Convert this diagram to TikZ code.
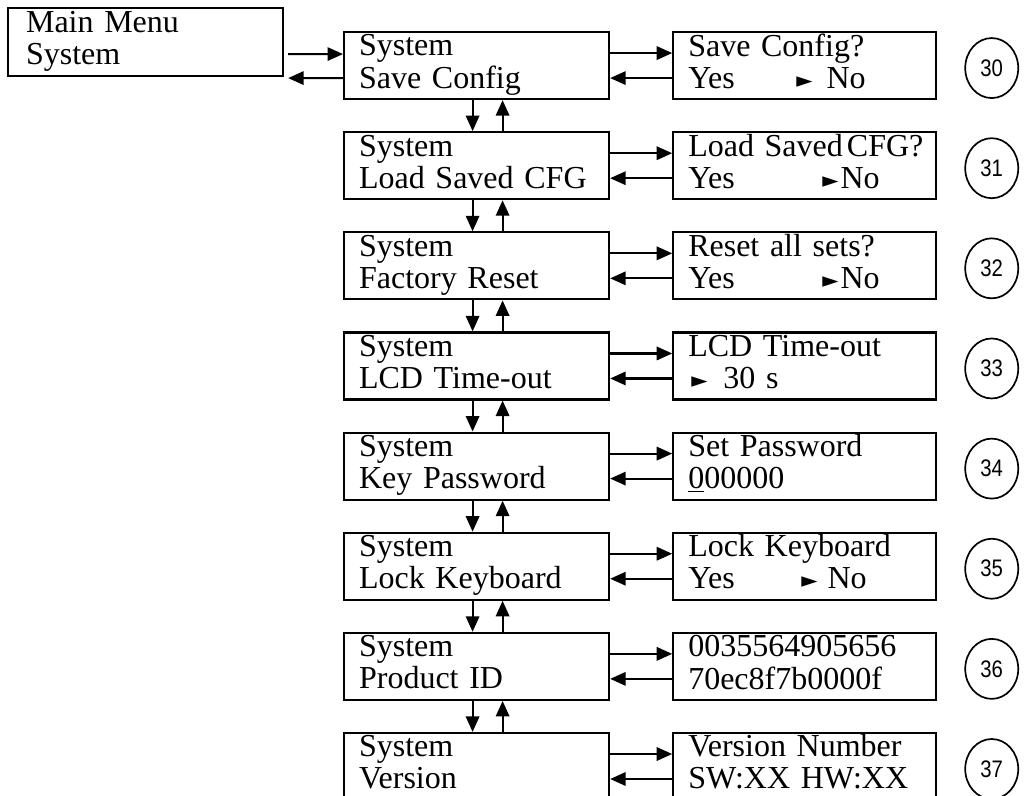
\documentclass[tikz,border=0pt]{standalone}
\usepackage{fontspec}
\setmainfont{Liberation Serif}
\newfontfamily\numfont[FakeStretch=0.85]{Liberation Sans}
\newfontfamily\symfont{DejaVu Sans}
\usetikzlibrary{arrows.meta,positioning,shapes.geometric}
\newcommand{\lcd}[2]{\strut\mbox{#1}\\\strut\mbox{#2}}
\newcommand{\sel}{\raisebox{0.5pt}{\symfont\fontsize{15}{15}\selectfont ►}}

\begin{document}
\begin{tikzpicture}[
  x=0.025cm, y=-0.025cm,
  lcdfont/.style={font=\fontsize{22.76}{22.76}\selectfont},
  menubox/.style={draw, line width=1.5pt, lcdfont, align=left, inner ysep=0pt,
                  inner xsep=0.45cm, text width=5.975cm, minimum height=1.7cm},
  leftbox/.style={draw, line width=1.5pt, lcdfont, align=left, inner ysep=0pt,
                  inner xsep=0.375cm, text width=5.875cm, minimum height=1.675cm},
  rightbox/.style={leftbox, text width=5.825cm},
  numcirc/.style={draw, ellipse, line width=1.2pt, inner sep=0pt,
                  minimum width=1.325cm, minimum height=1.5cm,
                  font=\numfont\fontsize{17}{17}\selectfont},
  arr/.style={-{Triangle[length=11pt,width=9.5pt]}, line width=1.5pt},
  node distance=0.775cm and 1.55cm
]
\useasboundingbox (0,0) rectangle (1027,796);
\clip (0,0) rectangle (1027,796);

%% ===== main menu =====
\node[menubox, anchor=north west] (menu) at (7,7) {\lcd{Main Menu}{System}};

%% ===== system column =====
\node[leftbox, anchor=north west] (s1) at (343,31) {\lcd{System}{Save Config}};
\node[leftbox, below=of s1] (s2) {\lcd{System}{Load Saved CFG}};
\node[leftbox, below=of s2] (s3) {\lcd{System}{Factory Reset}};
\node[leftbox, below=of s3] (s4) {\lcd{System}{LCD Time-out}};
\node[leftbox, below=of s4] (s5) {\lcd{System}{Key Password}};
\node[leftbox, below=of s5] (s6) {\lcd{System}{Lock Keyboard}};
\node[leftbox, below=of s6] (s7) {\lcd{System}{Product ID}};
\node[leftbox, below=of s7] (s8) {\lcd{System}{Version}};

%% ===== settings column =====
\node[rightbox, right=of s1] (r1)
  {\lcd{Save Config?}{\makebox[2.7cm][l]{Yes}\sel\hspace{0.35cm}No}};
\node[rightbox, right=of s2] (r2)
  {\lcd{Load Saved\kern0.1cm CFG?}{\makebox[3.35cm][l]{Yes}\sel\kern0.05cm No}};
\node[rightbox, right=of s3] (r3)
  {\lcd{Reset all sets?}{\makebox[3.35cm][l]{Yes}\sel\kern0.05cm No}};
\node[rightbox, right=of s4] (r4)
  {\lcd{LCD Time-out}{\hspace*{0.075cm}\sel\hspace{0.4cm}30 s}};
\node[rightbox, right=of s5] (r5) {\lcd{Set Password}{\underline{0}00000}};
\node[rightbox, right=of s6] (r6)
  {\lcd{Lock Keyboard}{\makebox[2.825cm][l]{Yes}\sel\hspace{0.25cm}No}};
\node[rightbox, right=of s7] (r7) {\lcd{0035564905656}{70ec8f7b0000f}};
\node[rightbox, right=of s8] (r8) {\lcd{Version Number}{SW:XX HW:XX}};

%% ===== step numbers =====
\node[numcirc, right=0.675cm of r1, yshift=-0.0625cm] (c1) {30};
\node[numcirc, right=0.675cm of r2, yshift=-0.0625cm] (c2) {31};
\node[numcirc, right=0.675cm of r3, yshift=-0.0625cm] (c3) {32};
\node[numcirc, right=0.675cm of r4, yshift=-0.0625cm] (c4) {33};
\node[numcirc, right=0.675cm of r5, yshift=-0.0625cm] (c5) {34};
\node[numcirc, right=0.675cm of r6, yshift=-0.0625cm] (c6) {35};
\node[numcirc, right=0.675cm of r7, yshift=-0.0625cm] (c7) {36};
\node[numcirc, right=0.675cm of r8, yshift=-0.0625cm] (c8) {37};

%% ===== enter / back =====
\draw[arr] ([xshift=0.1cm,yshift=-0.3cm]menu.east) -- ([yshift=0.2875cm]s1.west);
\draw[arr] ([yshift=-0.3125cm]s1.west) -- ([xshift=0.1cm,yshift=-0.9cm]menu.east);

\draw[arr] ([yshift=0.3125cm]s1.east) -- ([yshift=0.3125cm]r1.west);
\draw[arr] ([yshift=-0.3125cm]r1.west) -- ([yshift=-0.3125cm]s1.east);
\draw[arr] ([yshift=0.3125cm]s2.east) -- ([yshift=0.3125cm]r2.west);
\draw[arr] ([yshift=-0.3125cm]r2.west) -- ([yshift=-0.3125cm]s2.east);
\draw[arr] ([yshift=0.3125cm]s3.east) -- ([yshift=0.3125cm]r3.west);
\draw[arr] ([yshift=-0.3125cm]r3.west) -- ([yshift=-0.3125cm]s3.east);
\draw[arr] ([yshift=0.3125cm]s4.east) -- ([yshift=0.3125cm]r4.west);
\draw[arr] ([yshift=-0.3125cm]r4.west) -- ([yshift=-0.3125cm]s4.east);
\draw[arr] ([yshift=0.3125cm]s5.east) -- ([yshift=0.3125cm]r5.west);
\draw[arr] ([yshift=-0.3125cm]r5.west) -- ([yshift=-0.3125cm]s5.east);
\draw[arr] ([yshift=0.3125cm]s6.east) -- ([yshift=0.3125cm]r6.west);
\draw[arr] ([yshift=-0.3125cm]r6.west) -- ([yshift=-0.3125cm]s6.east);
\draw[arr] ([yshift=0.3125cm]s7.east) -- ([yshift=0.3125cm]r7.west);
\draw[arr] ([yshift=-0.3125cm]r7.west) -- ([yshift=-0.3125cm]s7.east);
\draw[arr] ([yshift=0.3125cm]s8.east) -- ([yshift=0.3125cm]r8.west);
\draw[arr] ([yshift=-0.3125cm]r8.west) -- ([yshift=-0.3125cm]s8.east);

%% ===== down / up =====
\draw[arr] ([xshift=-0.1cm]s1.south) -- ([xshift=-0.1cm]s2.north);
\draw[arr] ([xshift=0.65cm]s2.north) -- ([xshift=0.65cm]s1.south);
\draw[arr] ([xshift=-0.1cm]s2.south) -- ([xshift=-0.1cm]s3.north);
\draw[arr] ([xshift=0.65cm]s3.north) -- ([xshift=0.65cm]s2.south);
\draw[arr] ([xshift=-0.1cm]s3.south) -- ([xshift=-0.1cm]s4.north);
\draw[arr] ([xshift=0.65cm]s4.north) -- ([xshift=0.65cm]s3.south);
\draw[arr] ([xshift=-0.1cm]s4.south) -- ([xshift=-0.1cm]s5.north);
\draw[arr] ([xshift=0.65cm]s5.north) -- ([xshift=0.65cm]s4.south);
\draw[arr] ([xshift=-0.1cm]s5.south) -- ([xshift=-0.1cm]s6.north);
\draw[arr] ([xshift=0.65cm]s6.north) -- ([xshift=0.65cm]s5.south);
\draw[arr] ([xshift=-0.1cm]s6.south) -- ([xshift=-0.1cm]s7.north);
\draw[arr] ([xshift=0.65cm]s7.north) -- ([xshift=0.65cm]s6.south);
\draw[arr] ([xshift=-0.1cm]s7.south) -- ([xshift=-0.1cm]s8.north);
\draw[arr] ([xshift=0.65cm]s8.north) -- ([xshift=0.65cm]s7.south);

\end{tikzpicture}
\end{document}
